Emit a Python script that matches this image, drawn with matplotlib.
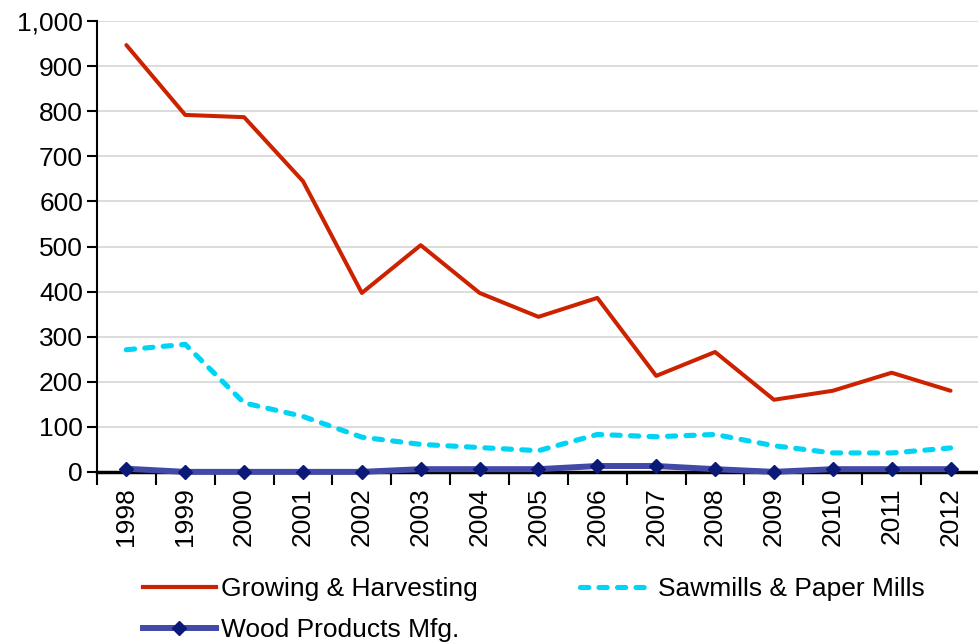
import matplotlib
matplotlib.use("Agg")
import matplotlib.pyplot as plt
from matplotlib.lines import Line2D
import numpy as np

plt.rcParams['font.family'] = ['Liberation Sans', 'DejaVu Sans']

years = ['1998', '1999', '2000', '2001', '2002', '2003', '2004', '2005',
         '2006', '2007', '2008', '2009', '2010', '2011', '2012']
growing = [947, 792, 787, 645, 397, 503, 397, 344, 386, 213, 266, 160, 180, 220, 180]
sawmills = [271, 283, 153, 123, 77, 61, 54, 47, 83, 78, 83, 58, 42, 42, 53]
wood = [7, 0, 0, 0, 0, 6, 6, 6, 13, 13, 6, 0, 6, 6, 6]

RED = '#CC2200'
CYAN = '#00D4F5'
BLUE = '#4349A8'
NAVY = '#0B1A78'
FS = 19

fig = plt.figure(figsize=(9.79, 6.42), dpi=100)
ax = fig.add_axes([0.099, 0.265, 0.902, 0.702])

x = np.arange(len(years))

ax.plot(x, growing, color=RED, lw=2.9, solid_joinstyle='round',
        solid_capstyle='round', zorder=4)
ax.plot(x, sawmills, color=CYAN, lw=3.7, linestyle=(0, (1.6, 2.0)),
        dash_capstyle='round', dash_joinstyle='round', zorder=3)
ax.plot(x, wood, color=BLUE, lw=4.3, marker='D', markersize=7,
        markerfacecolor=NAVY, markeredgecolor=NAVY, solid_joinstyle='round',
        zorder=5, clip_on=False)

ax.set_xlim(-0.5, len(years) - 0.5)
ax.set_ylim(0, 1000)
ax.set_yticks(np.arange(0, 1001, 100))
ax.set_yticklabels(['0', '100', '200', '300', '400', '500', '600', '700', '800',
                    '900', '1,000'])
ax.yaxis.grid(True, color='#D9D9D9', lw=1.3)
ax.set_axisbelow(True)

ax.set_xticks(x)
ax.set_xticklabels(years, rotation=90)
ax.set_xticks(np.arange(-0.5, len(years), 1), minor=True)
ax.tick_params(axis='x', which='major', length=0, pad=11, labelsize=FS)
ax.tick_params(axis='x', which='minor', length=9, width=1.5, direction='out')
ax.tick_params(axis='y', length=7, width=1.5, direction='out', labelsize=FS, pad=3)

for s in ['top', 'right']:
    ax.spines[s].set_visible(False)
ax.spines['left'].set_linewidth(1.5)
ax.spines['bottom'].set_linewidth(2.5)

handles = [
    Line2D([], [], color=RED, lw=3),
    Line2D([], [], color=BLUE, lw=4.3, marker='D', markersize=7,
           markerfacecolor=NAVY, markeredgecolor=NAVY),
    Line2D([], [], color=CYAN, lw=3.7, linestyle=(0, (1.6, 2.0)),
           dash_capstyle='round'),
]
labels = ['Growing & Harvesting', 'Wood Products Mfg.', 'Sawmills & Paper Mills']
fig.legend(handles, labels, ncol=2, loc='upper left', bbox_to_anchor=(0.146, 0.101),
           frameon=False, fontsize=FS, handlelength=2.75, handletextpad=0.2,
           columnspacing=3.9, labelspacing=0.65, borderaxespad=0, borderpad=0)

fig.savefig('out.png', dpi=100)
